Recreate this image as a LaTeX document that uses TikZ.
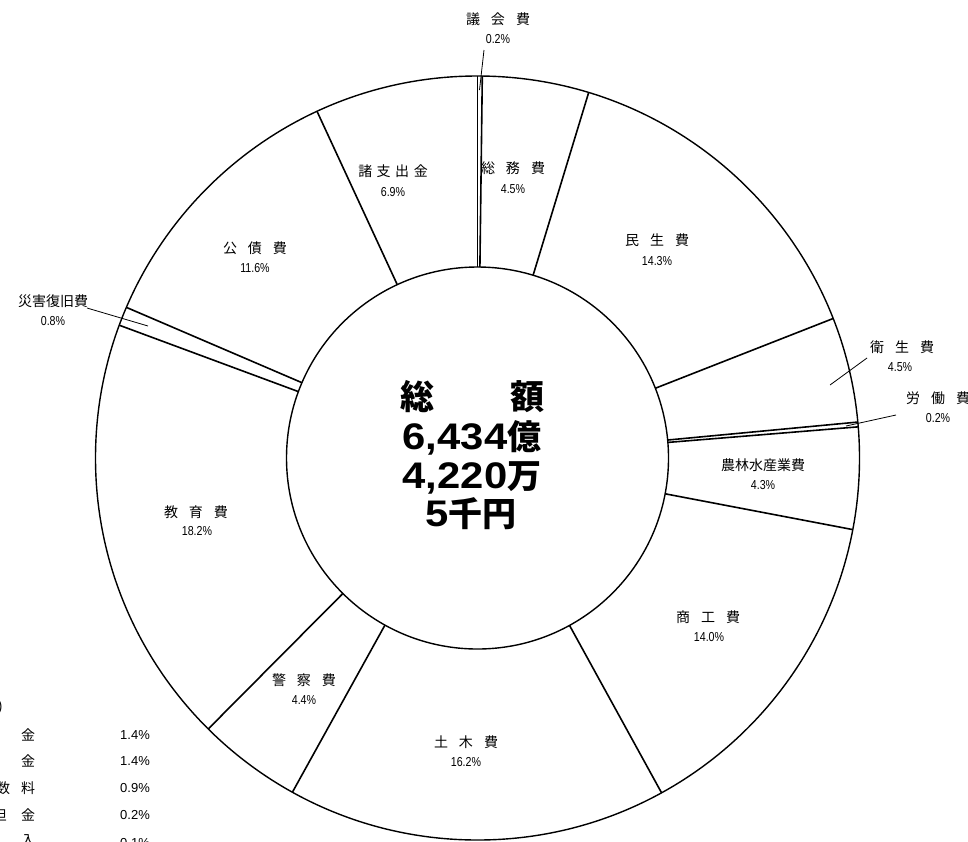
\documentclass[tikz,border=0pt]{standalone}
\usepackage{fontspec}
\setmainfont{Noto Sans CJK JP}
\newfontfamily\pctfont{Liberation Sans}
\usetikzlibrary{calc}
\newcommand\lgap{\hspace{11pt}}
\newcommand\sgap{\hspace{4.5pt}}
\newcommand\npct[1]{\scalebox{0.82}[1]{#1}}
\begin{document}
\begin{tikzpicture}[x=1pt,y=-1pt,
  lbl/.style={font=\fontsize{14}{16}\selectfont, inner sep=0pt},
  pct/.style={font=\pctfont\fontsize{13}{15}\selectfont, inner sep=0pt},
  bigt/.style={font=\bfseries\fontsize{34}{36}\selectfont, inner sep=0pt},
  ring/.style={line width=1.4pt},
  rad/.style={line width=1.6pt},
  lead/.style={line width=0.8pt}]
\clip (0,0) rectangle (968,841);
\fill[white] (0,0) rectangle (968,841);
\coordinate (c) at (477.5,458);
\draw[ring] (c) circle[radius=382];
\draw[ring] (c) circle[radius=191];
\foreach \p in {0,0.2,4.7,19.05,23.5,23.7,28.0,42.0,58.05,62.45,80.65,81.45,93.1}
  \draw[rad] ($(c)+({3.6*\p-90}:191)$) -- ($(c)+({3.6*\p-90}:382)$);
% segment labels
\node[lbl] (n1) at (498,19) {議\lgap 会\lgap 費};
\node[pct] (p1) at (498,39) {\npct{0.2\%}};
\node[lbl] (n2) at (513,168) {総\lgap 務\lgap 費};
\node[pct] (p2) at (513,189) {\npct{4.5\%}};
\node[lbl] (n3) at (657,240) {民\lgap 生\lgap 費};
\node[pct] (p3) at (657,261) {\npct{14.3\%}};
\node[lbl] (n4) at (902,347) {衛\lgap 生\lgap 費};
\node[pct] (p4) at (900,367) {\npct{4.5\%}};
\node[lbl] (n5) at (938,398) {労\lgap 働\lgap 費};
\node[pct] (p5) at (938,418) {\npct{0.2\%}};
\node[lbl] (n6) at (763,465) {農林水産業費};
\node[pct] (p6) at (763,485) {\npct{4.3\%}};
\node[lbl] (n7) at (708,617) {商\lgap 工\lgap 費};
\node[pct] (p7) at (709,637) {\npct{14.0\%}};
\node[lbl] (n8) at (466,742) {土\lgap 木\lgap 費};
\node[pct] (p8) at (466,762) {\npct{16.2\%}};
\node[lbl] (n9) at (304,680) {警\lgap 察\lgap 費};
\node[pct] (p9) at (304,700) {\npct{4.4\%}};
\node[lbl] (n10) at (196,512) {教\lgap 育\lgap 費};
\node[pct] (p10) at (197,531) {\npct{18.2\%}};
\node[lbl] (n11) at (53,301) {災害復旧費};
\node[pct] (p11) at (53,321) {\npct{0.8\%}};
\node[lbl] (n12) at (255,248) {公\lgap 債\lgap 費};
\node[pct] (p12) at (255,268) {\npct{11.6\%}};
\node[lbl] (n13) at (393,171) {諸\sgap 支\sgap 出\sgap 金};
\node[pct] (p13) at (393,192) {\npct{6.9\%}};
% leader lines
\coordinate (a1) at (484,50);  \coordinate (b1) at (479.5,90);
\coordinate (a4) at (867,358); \coordinate (b4) at (830,385);
\coordinate (a5) at (896,415); \coordinate (b5) at (846,426);
\coordinate (a11) at (87,308); \coordinate (b11) at (148,326);
\draw[lead] (a1) -- (b1);
\draw[lead] (a4) -- (b4);
\draw[lead] (a5) -- (b5);
\draw[lead] (a11) -- (b11);
% centre total
\node[bigt] (t1a) at (417.5,397) {総};
\node[bigt] (t1b) at (527,397) {額};
\node[bigt] (t2) at (472,438) {{\pctfont\fontsize{37}{40}\selectfont\scalebox{1.13}[1]{6,434}}億};
\node[bigt] (t3) at (472,478) {{\pctfont\fontsize{37}{40}\selectfont\scalebox{1.13}[1]{4,220}}万};
\node[bigt] (t4) at (471,514) {{\pctfont\fontsize{37}{40}\selectfont\scalebox{1.13}[1]{5}}千円};
% cut-off legend
\node[lbl, anchor=east] (g0) at (3,707) {)};
\node[lbl] (g1) at (28,735) {金};
\node[pct] (g1p) at (135,735) {1.4\%};
\node[lbl] (g2) at (28,761) {金};
\node[pct] (g2p) at (135,761) {1.4\%};
\node[lbl] (g3a) at (3,788) {数};
\node[lbl] (g3) at (28,788) {料};
\node[pct] (g3p) at (135,788) {0.9\%};
\node[lbl] (g4a) at (0,815) {担};
\node[lbl] (g4) at (28,815) {金};
\node[pct] (g4p) at (135,815) {0.2\%};
\node[lbl] (g5) at (28,841) {入};
\node[pct] (g5p) at (135,843) {0.1\%};
\end{tikzpicture}
\end{document}
